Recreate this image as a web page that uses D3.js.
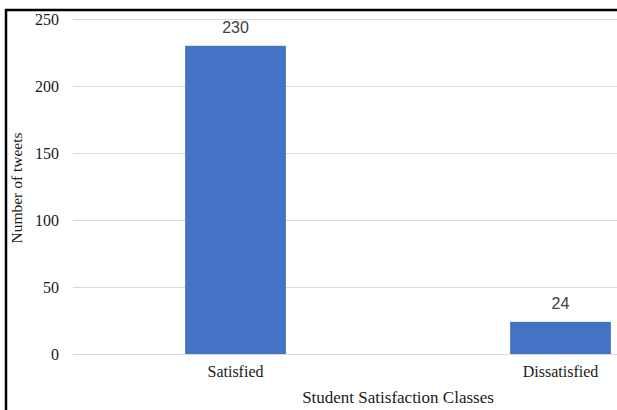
<!DOCTYPE html>
<html>
<head>
<meta charset="utf-8">
<script src="https://cdn.jsdelivr.net/npm/d3@7"></script>
<style>
  html, body { margin: 0; padding: 0; background: #fff; }
  svg { display: block; }
</style>
</head>
<body>
<svg id="chart" width="617" height="410"></svg>
<script>
// data
const categories = ["Satisfied", "Dissatisfied"];
const tweetCounts = [230, 24];
const yTicks = [0, 50, 100, 150, 200, 250];

const svg = d3.select("#chart");
const W = 617, H = 410;
const serif = "'Liberation Serif', 'Times New Roman', serif";

// chart is cropped on the right, so the plot runs past the window edge
const plot = {left: 73, right: 723, top: 19, bottom: 354};

const x = d3.scaleBand().domain(categories).range([plot.left, plot.right]).paddingInner(0.69).paddingOuter(0.345);
const y = d3.scaleLinear().domain([0, 250]).range([plot.bottom, plot.top]);

// gridlines
svg.append("g")
  .selectAll("line")
  .data(yTicks)
  .enter().append("line")
  .attr("x1", plot.left).attr("x2", W)
  .attr("y1", d => y(d) + 0.5).attr("y2", d => y(d) + 0.5)
  .attr("stroke", "#d9d9d9").attr("stroke-width", 1);

// y tick labels
const yAxis = svg.append("g")
  .attr("transform", `translate(${plot.left - 14},0)`)
  .call(d3.axisLeft(y).tickValues(yTicks).tickSize(0).tickPadding(0));
yAxis.select(".domain").remove();
yAxis.selectAll("text")
  .attr("font-family", serif)
  .attr("font-size", 16)
  .attr("fill", "#1a1a1a");

// bars
svg.append("g")
  .selectAll("rect")
  .data(categories)
  .enter().append("rect")
  .attr("x", d => x(d))
  .attr("width", x.bandwidth())
  .attr("y", (d, i) => y(tweetCounts[i]))
  .attr("height", (d, i) => y(0) - y(tweetCounts[i]))
  .attr("fill", "#4472c4");

// data labels
svg.append("g")
  .selectAll("text")
  .data(categories)
  .enter().append("text")
  .attr("x", d => x(d) + x.bandwidth() / 2)
  .attr("y", (d, i) => y(tweetCounts[i]) - 13)
  .attr("text-anchor", "middle")
  .attr("font-family", "'Liberation Sans', Arial, sans-serif")
  .attr("font-size", 16)
  .attr("fill", "#404040")
  .text((d, i) => tweetCounts[i]);

// x category labels
const xAxis = svg.append("g")
  .attr("transform", `translate(0,${plot.bottom + 12})`)
  .call(d3.axisBottom(x).tickSize(0).tickPadding(0));
xAxis.select(".domain").remove();
xAxis.selectAll("text")
  .attr("font-family", serif)
  .attr("font-size", 16)
  .attr("fill", "#1a1a1a");

// axis titles
svg.append("text")
  .attr("x", (plot.left + plot.right) / 2)
  .attr("y", 403)
  .attr("text-anchor", "middle")
  .attr("font-family", serif)
  .attr("font-size", 17)
  .attr("fill", "#1a1a1a")
  .text("Student Satisfaction Classes");

svg.append("text")
  .attr("transform", "translate(22,188) rotate(-90)")
  .attr("text-anchor", "middle")
  .attr("font-family", serif)
  .attr("font-size", 15.5)
  .attr("fill", "#1a1a1a")
  .text("Number of tweets");

// outer frame (cropped on right and bottom)
svg.append("path")
  .attr("d", `M6,${H} L6,10 L${W},10`)
  .attr("fill", "none")
  .attr("stroke", "#000")
  .attr("stroke-width", 2.5);
</script>
</body>
</html>
